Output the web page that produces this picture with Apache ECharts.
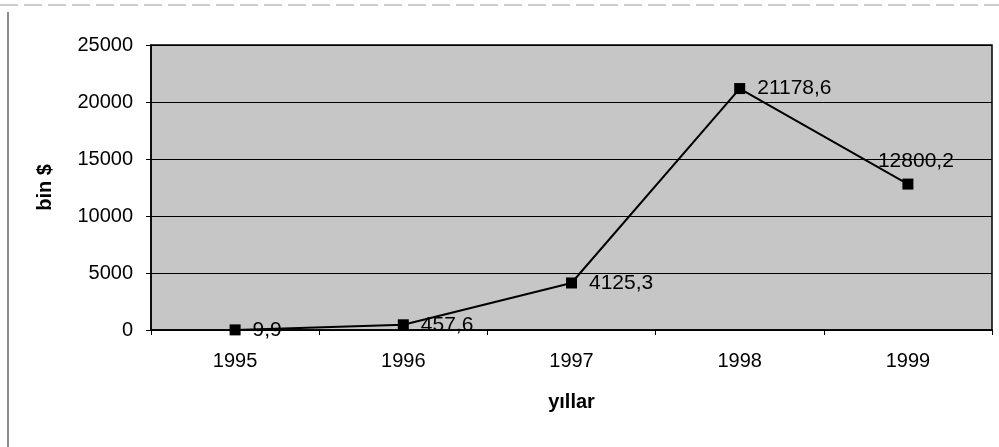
<!DOCTYPE html>
<html>
<head>
<meta charset="utf-8">
<script src="https://cdn.jsdelivr.net/npm/echarts@6/dist/echarts.min.js"></script>
<style>
    html, body { margin: 0; padding: 0; background: #fff; }
    #main { width: 999px; height: 447px; }
</style>
</head>
<body>
<div id="main"></div>
<script>
// yıllara göre değerler (bin $)
const years = ['1995', '1996', '1997', '1998', '1999'];
const values = [9.9, 457.6, 4125.3, 21178.6, 12800.2];
const labelPos = ['right', 'right', 'right', 'right', 'top'];

const myChart = echarts.init(document.getElementById('main'));

const fmt = v => String(v).replace('.', ',');

const option = {
    animation: false,
    textStyle: { fontFamily: 'Liberation Sans, Arial, sans-serif' },
    graphic: [
        { type: 'line', shape: { x1: 8, y1: 12, x2: 8, y2: 447 }, style: { stroke: '#666', lineWidth: 1.5 } },
        { type: 'line', shape: { x1: 0, y1: 5, x2: 999, y2: 5 }, style: { stroke: '#999', lineWidth: 1, lineDash: [18, 6] } }
    ],
    grid: {
        left: 151,
        right: 7,
        top: 45,
        bottom: 117,
        show: true,
        backgroundColor: '#c6c6c6',
        borderColor: '#000',
        borderWidth: 1.5
    },
    xAxis: {
        type: 'category',
        data: years,
        boundaryGap: true,
        name: 'yıllar',
        nameLocation: 'middle',
        nameGap: 62,
        nameTextStyle: { fontSize: 20, fontWeight: 'bold', color: '#000' },
        axisLine: { lineStyle: { color: '#000', width: 1.5 } },
        axisTick: { show: true, alignWithLabel: false, length: 5, lineStyle: { color: '#000' } },
        axisLabel: { fontSize: 20, color: '#000', margin: 21 }
    },
    yAxis: {
        type: 'value',
        min: 0,
        max: 25000,
        interval: 5000,
        name: 'bin $',
        nameLocation: 'middle',
        nameGap: 96,
        nameTextStyle: { fontSize: 20, fontWeight: 'bold', color: '#000' },
        axisLine: { show: true, lineStyle: { color: '#000', width: 1.5 } },
        axisTick: { show: true, length: 5, lineStyle: { color: '#000' } },
        axisLabel: { fontSize: 20, color: '#000', margin: 18, formatter: v => String(v) },
        splitLine: { lineStyle: { color: '#000', width: 1.2 } }
    },
    series: [{
        name: 'bin $',
        type: 'line',
        symbol: 'rect',
        symbolSize: 11,
        itemStyle: { color: '#000' },
        lineStyle: { color: '#000', width: 2 },
        data: values.map((v, i) => ({
            value: v,
            label: {
                show: true,
                position: labelPos[i],
                distance: labelPos[i] === 'top' ? 7 : 12,
                offset: labelPos[i] === 'top' ? [8, 0] : [0, 0],
                fontSize: 21,
                color: '#000',
                formatter: p => fmt(p.value)
            }
        }))
    }]
};

option && myChart.setOption(option);
</script>
</body>
</html>
